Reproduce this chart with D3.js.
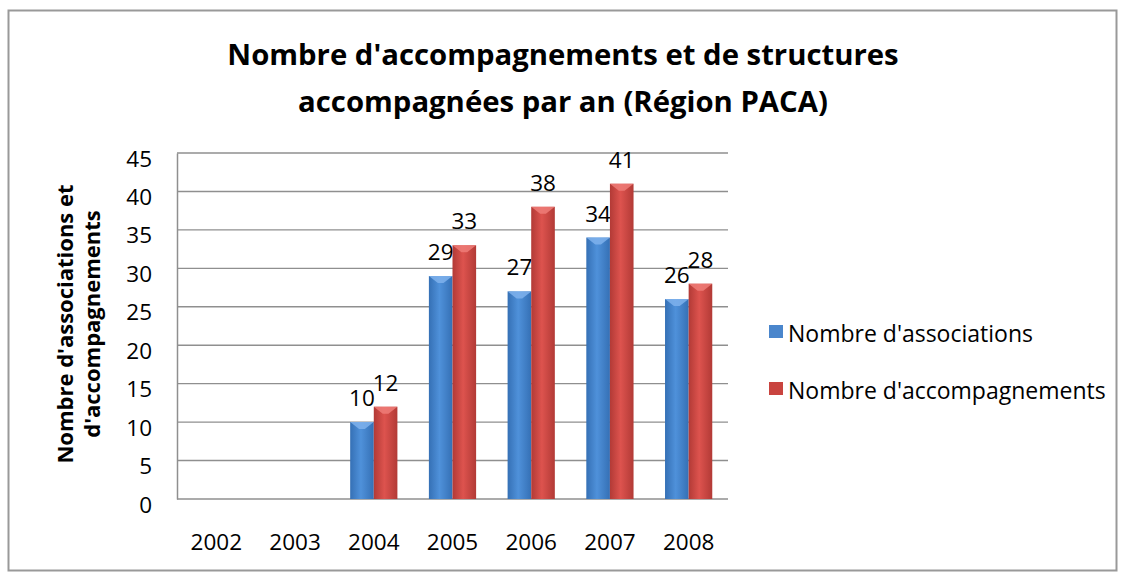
<!DOCTYPE html>
<html><head><meta charset="utf-8">
<script src="https://cdn.jsdelivr.net/npm/d3@7"></script>
<style>body{margin:0;background:#fff}svg{display:block}</style>
</head><body>
<script>
const years = ["2002","2003","2004","2005","2006","2007","2008"];
const associations = [null,null,10,29,27,34,26];
const accompagnements = [null,null,12,33,38,41,28];
const seriesNames = ["Nombre d'associations","Nombre d'accompagnements"];
const yTicks = [0,5,10,15,20,25,30,35,40,45];

const W=1125,H=578;
const svg=d3.select("body").append("svg").attr("width",W).attr("height",H);
const FONT="'Open Sans', sans-serif";
svg.append("rect").attr("x",8.5).attr("y",10.5).attr("width",1108).attr("height",560)
  .attr("fill","#fff").attr("stroke","#999").attr("stroke-width",2);

const defs=svg.append("defs");
function grad(id,edge,mid){
  const g=defs.append("linearGradient").attr("id",id).attr("x1","0").attr("x2","1").attr("y1","0").attr("y2","0");
  g.append("stop").attr("offset","0%").attr("stop-color",edge);
  g.append("stop").attr("offset","45%").attr("stop-color",mid);
  g.append("stop").attr("offset","100%").attr("stop-color",edge);
}
grad("gB","#3570b5","#4f91da");
grad("gR","#b23a36","#dd534e");
const colors=["url(#gB)","url(#gR)"];
const legendColors=["#4a86cc","#c9443f"];
const bevel=["#7fb2ec","#ee7d78"];

const L=177,R=728,T=153,B=499;
const x=d3.scaleBand().domain(years).range([L,R]).padding(0);
const y=d3.scaleLinear().domain([0,45]).range([B,T]);
const x1=d3.scaleBand().domain([0,1]).range([x.bandwidth()*0.2,x.bandwidth()*0.8]).padding(0);

// gridlines
svg.append("g").selectAll("line").data(yTicks).join("line")
  .attr("x1",L).attr("x2",R).attr("y1",d=>y(d)).attr("y2",d=>y(d))
  .attr("stroke","#8f8f8f").attr("stroke-width",1.4);

// y axis
const ya=svg.append("g").attr("transform",`translate(${L},0)`)
  .call(d3.axisLeft(y).tickValues(yTicks).tickSize(0).tickPadding(25));
ya.select(".domain").attr("stroke","#8f8f8f").attr("stroke-width",1.5);
ya.selectAll("text").attr("font-family",FONT).attr("font-size",22.5).attr("fill","#000").attr("dy","13px");

// x axis labels
const xa=svg.append("g").attr("transform",`translate(0,${B})`)
  .call(d3.axisBottom(x).tickSize(0).tickPadding(0));
xa.select(".domain").remove();
xa.selectAll("text").attr("font-family",FONT).attr("font-size",22.5).attr("fill","#000").attr("dy",0).attr("y",51);

const data=years.map((yr,i)=>({yr,vals:[associations[i],accompagnements[i]]}));
const g=svg.append("g");
data.forEach(d=>{
  d.vals.forEach((v,k)=>{
    if(v==null) return;
    const bx=x(d.yr)+x1(k), bw=x1.bandwidth(), by=y(v);
    g.append("rect").attr("x",bx).attr("y",by).attr("width",bw).attr("height",B-by).attr("fill",colors[k]);
    g.append("path").attr("d",`M${bx},${by}L${bx+bw},${by}L${bx+bw*0.62},${by+7}L${bx+bw*0.38},${by+7}Z`)
      .attr("fill",bevel[k]).attr("opacity",0.85);
    g.append("text").attr("x",bx+bw/2).attr("y",by-16).attr("text-anchor","middle")
      .attr("font-family",FONT).attr("font-size",22.5).text(v);
  });
});

// title
const title=svg.append("text").attr("text-anchor","middle").attr("font-family",FONT)
  .attr("font-weight","bold").attr("font-size",29.3);
title.append("tspan").attr("x",563).attr("y",65).text("Nombre d'accompagnements et de structures");
title.append("tspan").attr("x",563).attr("y",112).text("accompagnées par an (Région PACA)");

// y title
svg.append("text").attr("transform","translate(73,324) rotate(-90)").attr("text-anchor","middle")
  .attr("font-family",FONT).attr("font-weight","bold").attr("font-size",22).text("Nombre d'associations et");
svg.append("text").attr("transform","translate(100,324) rotate(-90)").attr("text-anchor","middle")
  .attr("font-family",FONT).attr("font-weight","bold").attr("font-size",22).text("d'accompagnements");

// legend
const lg=svg.append("g");
seriesNames.forEach((n,i)=>{
  const yy=332+i*57;
  lg.append("rect").attr("x",769).attr("y",yy-7).attr("width",14).attr("height",13).attr("fill",legendColors[i]);
  lg.append("text").attr("x",788).attr("y",yy+10).attr("font-family",FONT).attr("font-size",23).text(n);
});
</script>
</body></html>
